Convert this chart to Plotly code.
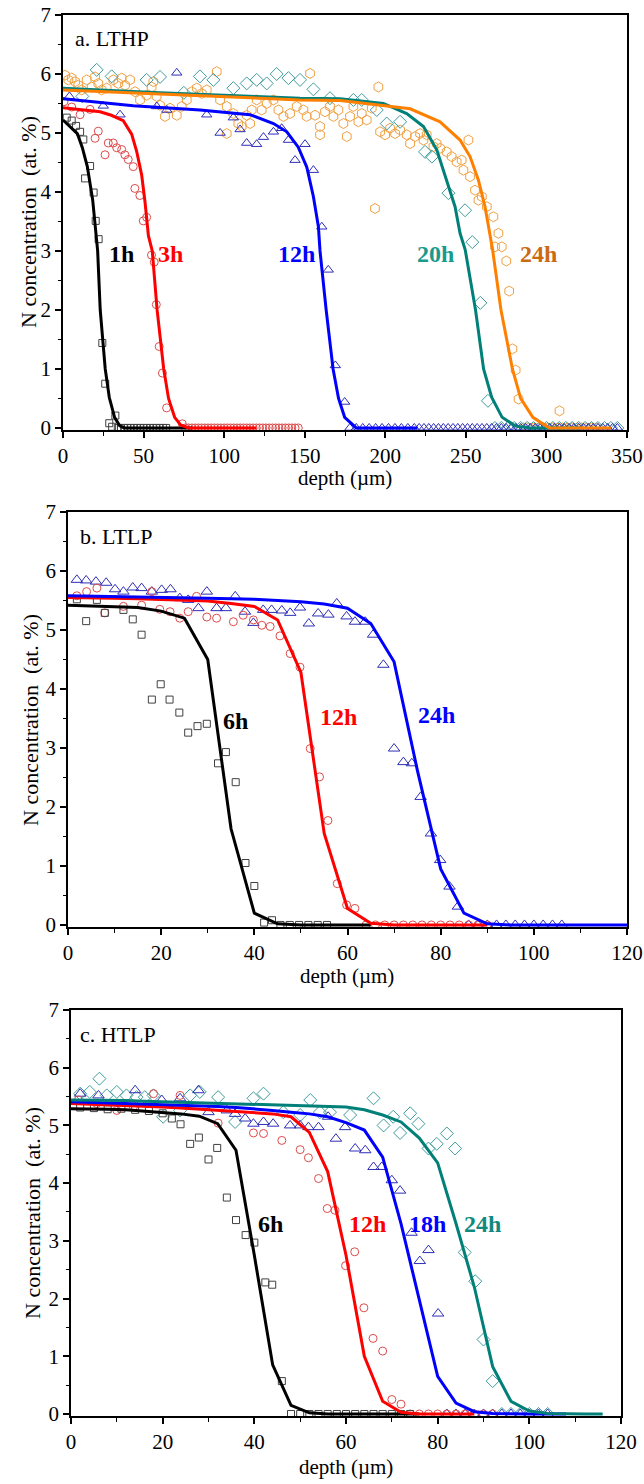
import plotly.graph_objects as go

# ---------------- Panel a: LTHP ----------------
a_1h_x = [2.3, 5.4, 8.1, 10.6, 12.6, 13.7, 16.8, 19.0, 20.3, 22.1, 24.4, 26.2, 28.7, 30.5, 32.5,
          34, 36, 38, 40, 42, 44, 46, 48, 50, 52, 54, 56, 58, 60, 62, 64]
a_1h_y = [5.26, 5.21, 5.12, 5.02, 4.89, 4.23, 4.44, 3.99, 3.51, 3.20, 1.44, 0.75, 0.08, 0.02, 0.21,
          0, 0, 0, 0, 0, 0, 0, 0, 0, 0, 0, 0, 0, 0, 0, 0]
a_1h_fit_x = [0, 4, 8.9, 12, 15.1, 18.4, 20.5, 21.5, 23.1, 26.2, 28.7, 32, 35.1, 38, 80]
a_1h_fit_y = [5.22, 5.12, 4.99, 4.75, 4.43, 3.87, 3.3, 3.0, 2.0, 1.0, 0.52, 0.18, 0.04, 0.0, 0.0]

a_3h_x = [0.6, 5.4, 10.6, 16.8, 19.9, 21.9, 26.1, 28.1, 31.2, 33.3, 36.4, 38.4, 40.5, 43.6, 44.6,
          47.7, 49.8, 51.9, 54.9, 56.6, 57.9, 59.7, 61.7, 64.3, 74,
          76, 78, 80, 82, 84, 86, 88, 90, 92, 94, 96, 98, 100, 102, 104, 106, 108, 110, 112, 114,
          116, 118, 120, 122, 124, 126, 128, 130, 132, 134, 136, 138, 140, 142, 144, 146]
a_3h_y = [5.53, 5.44, 5.31, 5.40, 4.91, 5.03, 4.63, 4.83, 4.83, 4.75, 4.72, 4.63, 4.55, 4.43, 4.06,
          3.94, 3.51, 3.57, 2.93, 2.81, 2.09, 1.38, 0.93, 0.34, 0.07,
          0, 0, 0, 0, 0, 0, 0, 0, 0, 0, 0, 0, 0, 0, 0, 0, 0, 0, 0, 0,
          0, 0, 0, 0, 0, 0, 0, 0, 0, 0, 0, 0, 0, 0, 0, 0]
a_3h_fit_x = [0, 12, 23, 30, 37.4, 42.6, 45.7, 48.8, 50.9, 53, 55.4, 58.4, 62.5, 65.5, 69.3, 73, 78, 120]
a_3h_fit_y = [5.43, 5.40, 5.36, 5.30, 5.21, 4.98, 4.69, 4.29, 3.83, 3.26, 3.0, 2.0, 1.0, 0.5, 0.18, 0.05, 0.0, 0.0]

a_12h_x = [4, 25.0, 35.4, 58.2, 64.4, 70.6, 89.2, 97.5, 105.7, 109.9, 114.0, 120.2, 124.4, 130.6,
           135.7, 139.9, 144.0, 150.2, 155.4, 160.6, 164.6, 169, 174.8,
           178, 182, 186, 190, 194, 198, 202, 206, 210, 214, 218, 221, 224, 227, 230, 233, 236, 239,
           242, 245, 248, 251, 254, 257, 260, 263, 266, 269, 272, 275, 278, 281, 284, 287, 290, 293,
           296, 299, 302, 305, 308, 311, 314, 317, 320, 323, 326, 329, 332, 335, 338, 341, 344]
a_12h_y = [5.62, 5.46, 5.31, 5.45, 5.39, 6.02, 5.31, 5.00, 5.26, 5.06, 4.83, 4.81, 4.93, 5.02,
           5.08, 4.88, 4.54, 4.81, 4.37, 3.41, 2.68, 1.06, 0.44,
           0, 0, 0, 0, 0, 0, 0, 0, 0, 0, 0, 0, 0, 0, 0, 0, 0, 0,
           0, 0, 0, 0, 0, 0, 0, 0, 0, 0, 0, 0, 0, 0, 0, 0, 0, 0,
           0, 0, 0, 0, 0, 0, 0, 0, 0, 0, 0, 0, 0, 0, 0, 0, 0]
a_12h_fit_x = [0, 43.6, 85, 116, 130.6, 138.9, 146, 151.3, 155.4, 158.5, 159.5, 163.3, 167.6, 171, 174.8, 182, 220]
a_12h_fit_y = [5.58, 5.46, 5.39, 5.31, 5.16, 5.02, 4.76, 4.42, 3.92, 3.41, 3.0, 2.0, 1.0, 0.5, 0.18, 0.0, 0.0]

a_20h_x = [12, 20.9, 30.2, 51.9, 60.2, 75, 85, 93.3, 105.7, 114, 120.2, 126.4, 132.6, 139.9, 147.1,
           155.4, 165.7, 180.2, 185.4, 194.7, 200.9, 209.2, 224.7, 228.9, 239.2, 249.5, 254, 259, 263.7,
           268, 272, 276, 280, 284, 288, 292, 296, 300, 304, 308, 312, 316, 320, 324, 328, 332, 336, 340, 344]
a_20h_y = [5.62, 6.07, 5.96, 5.90, 5.95, 5.68, 5.96, 5.90, 5.76, 5.84, 5.90, 5.84, 6.0, 5.93, 5.90,
           5.74, 5.59, 5.56, 5.56, 5.39, 5.16, 5.19, 4.68, 4.60, 3.98, 3.69, 3.15, 2.12, 0.46,
           0, 0, 0, 0, 0, 0, 0, 0, 0, 0, 0, 0, 0, 0, 0, 0, 0, 0, 0, 0]
a_20h_fit_x = [0, 60, 120, 147.1, 172, 198.8, 213.3, 223.7, 232, 238.2, 243.3, 246.4, 249.6, 256, 261, 266, 272.5, 281, 290, 322]
a_20h_fit_y = [5.76, 5.68, 5.62, 5.59, 5.58, 5.50, 5.33, 5.11, 4.71, 4.20, 3.75, 3.30, 3.02, 2.0, 1.0, 0.52, 0.18, 0.03, 0.0, 0.0]

a_24h_x = [1.2, 3.3, 5.4, 7.5, 9.5, 11.6, 14.7, 17.8, 19.9, 21.9, 24.0, 27.1, 31.2, 34.3, 36.4, 38.5,
           41.6, 44.7, 47.8, 51.9, 55.0, 56.1, 58.1, 60.2, 63.3, 66.4, 70.6, 73.7, 76.8, 79.9, 83.0,
           86.1, 89.2, 95.4, 97.5, 101.6, 105.7, 108.8, 110.9, 114.0, 117.1, 120.2, 123.3, 126.4,
           130.6, 133.7, 136.8, 140.9, 145.0, 101.6, 116.1,
           153.3, 149.2, 151.2, 156.4, 159.5, 159.5, 162.6, 165.7, 167.8, 170.9, 174.0, 176.1, 178.1,
           180.2, 183.3, 185.4, 188.5, 191.6, 195.7, 196.8, 199.9, 203.0, 206.1, 209.2, 213.3, 215.4,
           218.5, 221.6, 223.7, 225.7, 229.9, 231.9, 234.0, 238.1, 241.2, 244.3, 247.4, 251.6, 248.5,
           252.6, 255.7, 257.8, 259.9, 263.0, 193.6, 267.1, 270.2, 272.3, 268.1,
           275.1, 276.9, 278.9, 280.9, 282.7, 308.1,
           286, 289, 292, 295, 298, 301, 304, 307, 310, 313, 316, 319, 322, 325, 328, 331]
a_24h_y = [5.98, 5.90, 5.93, 5.87, 5.81, 5.73, 5.90, 5.78, 5.95, 5.84, 5.73, 5.76, 5.90, 5.84, 5.93, 5.81,
           5.90, 5.70, 5.56, 5.64, 5.78, 5.87, 5.62, 5.47, 5.28, 5.42, 5.30, 5.45, 5.56, 5.70, 5.76,
           5.67, 5.73, 6.04, 5.56, 5.45, 5.33, 5.16, 5.11, 5.30, 5.39, 5.56, 5.39, 5.50,
           5.56, 5.39, 5.28, 5.33, 5.45, 4.99, 5.16,
           6.01, 5.39, 5.28, 5.30, 5.11, 4.97, 5.36, 5.45, 5.28, 5.39, 5.16, 4.94, 5.28,
           5.45, 5.19, 5.33, 5.22, 5.42, 5.78, 5.02, 4.97, 5.08, 4.99, 5.05, 4.97, 4.82,
           4.94, 4.99, 4.88, 4.97, 4.77, 4.82, 4.74, 4.68, 4.60, 4.51, 4.54, 4.88, 4.37,
           4.26, 4.03, 3.86, 3.92, 3.75, 3.72, 3.58, 3.30, 3.07, 3.07,
           2.83, 2.32, 1.34, 0.98, 0.49, 0.29,
           0, 0, 0, 0, 0, 0, 0, 0, 0, 0, 0, 0, 0, 0, 0, 0]
a_24h_fit_x = [0, 60, 120, 147, 172, 188.5, 215.4, 234, 246.4, 252.6, 257.8, 261.9, 265, 266.6, 271.8, 278.9, 284, 291.6, 301.8, 340]
a_24h_fit_y = [5.73, 5.66, 5.60, 5.56, 5.55, 5.50, 5.41, 5.19, 4.88, 4.60, 4.20, 3.75, 3.30, 3.02, 2.0, 1.0, 0.5, 0.18, 0.0, 0.0]

# ---------------- Panel b: LTLP ----------------
b_6h_x = [1.9, 3.9, 6.2, 7.9, 11.9, 13.9, 15.8, 18.0, 19.9, 21.8, 23.9, 25.8, 27.8, 29.8, 32.2, 33.9,
          36.0, 38.1, 40.0, 42.1, 43.8, 45.6, 47.6, 49.6, 51.6, 53.6, 55.6]
b_6h_y = [5.52, 5.15, 5.51, 5.29, 5.34, 5.18, 4.92, 3.82, 4.08, 3.82, 3.60, 3.26, 3.37, 3.41, 2.74, 2.93,
          2.42, 1.05, 0.66, 0.04, 0.08, 0, 0, 0, 0, 0, 0]
b_6h_fit_x = [0, 5, 10, 15, 20, 25, 30, 35, 40, 45, 50, 55, 60, 65]
b_6h_fit_y = [5.42, 5.41, 5.40, 5.38, 5.32, 5.20, 4.50, 1.63, 0.20, 0.02, 0, 0, 0, 0]

b_12h_x = [1.9, 4.0, 6.2, 7.9, 11.9, 15.8, 18.0, 19.7, 21.9, 24.0, 25.8, 27.6, 29.8, 31.9, 35.5, 37.6,
           39.8, 41.6, 43.4, 45.5, 47.7, 49.8, 52.0, 54.0, 55.8, 57.8, 59.8, 61.6,
           64, 66, 68, 70, 72, 74, 76, 78, 80, 82, 84, 86, 88, 90]
b_12h_y = [5.58, 5.65, 5.71, 5.29, 5.40, 5.42, 5.65, 5.35, 5.31, 5.20, 5.31, 5.57, 5.22, 5.20, 5.14, 5.25,
           5.17, 5.08, 5.06, 4.90, 4.60, 4.37, 2.99, 2.51, 1.77, 0.70, 0.34, 0.28,
           0, 0, 0, 0, 0, 0, 0, 0, 0, 0, 0, 0, 0, 0]
b_12h_fit_x = [0, 5, 10, 15, 20, 25, 30, 35, 40, 45, 50, 55, 60, 65, 70, 75, 80, 85, 90]
b_12h_fit_y = [5.55, 5.55, 5.54, 5.53, 5.52, 5.51, 5.49, 5.45, 5.40, 5.17, 4.28, 1.55, 0.28, 0.03, 0, 0, 0, 0, 0]

b_24h_x = [1.9, 3.9, 6.0, 8.2, 10.1, 11.9, 13.9, 15.8, 18.0, 20.1, 22.0, 24.0, 25.8, 28.0, 29.8, 31.9,
           33.9, 35.9, 38.0, 39.8, 41.9, 43.7, 45.9, 47.7, 49.8, 51.7, 53.7, 55.9, 57.7, 59.8, 61.6,
           63.8, 65.5, 67.7, 70.0, 72.0, 73.8, 75.7, 77.9, 79.9, 81.9, 83.7,
           86, 88, 90, 92, 94, 96, 98, 100, 102, 104, 106]
b_24h_y = [5.85, 5.84, 5.82, 5.80, 5.69, 5.65, 5.72, 5.71, 5.65, 5.68, 5.69, 5.54, 5.51, 5.37, 5.65, 5.37,
           5.37, 5.57, 5.31, 5.12, 5.34, 5.34, 5.33, 5.29, 5.38, 5.11, 5.28, 5.26, 5.45, 5.23, 5.14,
           5.14, 4.92, 4.41, 2.99, 2.76, 2.74, 2.17, 1.55, 1.10, 0.65, 0.31,
           0, 0, 0, 0, 0, 0, 0, 0, 0, 0, 0]
b_24h_fit_x = [0, 10, 20, 30, 40, 50, 55, 60, 65, 70, 75, 80, 85, 90, 95, 120]
b_24h_fit_y = [5.58, 5.57, 5.56, 5.54, 5.52, 5.48, 5.44, 5.37, 5.11, 4.46, 2.62, 0.95, 0.20, 0.02, 0, 0]

# ---------------- Panel c: HTLP ----------------
c_6h_x = [2, 5, 8, 11, 14, 17, 20, 22.0, 23.9, 26.0, 27.9, 30.0, 31.9, 34.0, 36.0, 38.1, 40.0, 42.4,
          43.9, 46.0, 48, 50, 52, 54, 56, 58, 60, 62, 64, 66, 68, 70, 72, 74]
c_6h_y = [5.31, 5.30, 5.28, 5.29, 5.27, 5.25, 5.21, 5.12, 5.02, 4.68, 4.79, 4.41, 4.61, 3.75, 3.36, 3.10,
          2.97, 2.28, 2.24, 0.57, 0, 0, 0, 0, 0, 0, 0, 0, 0, 0, 0, 0, 0, 0]
c_6h_fit_x = [0, 4, 8, 12, 16, 20, 24, 28, 32, 36, 40, 44, 48, 52, 56, 60, 64, 68, 72, 76]
c_6h_fit_y = [5.29, 5.29, 5.28, 5.27, 5.25, 5.23, 5.20, 5.16, 5.03, 4.57, 2.75, 0.85, 0.15, 0.02, 0, 0, 0, 0, 0, 0]

c_12h_x = [1.6, 5.6, 10, 13.6, 18, 23.8, 32.1, 39.8, 42, 46, 50, 51.8, 54, 55.9, 57.6, 59.9, 61.9, 63.9,
           65.9, 68.0, 70.0, 72.0, 74, 76, 78, 80, 82, 84, 86, 88, 90, 92]
c_12h_y = [5.44, 5.38, 5.26, 5.32, 5.55, 5.52, 5.04, 4.87, 4.86, 4.74, 4.58, 4.44, 4.08, 3.56, 3.53, 2.57,
           2.81, 1.84, 1.31, 1.09, 0.25, 0.17, 0, 0, 0, 0, 0, 0, 0, 0, 0, 0]
c_12h_fit_x = [0, 4, 8, 12, 16, 20, 24, 28, 32, 36, 40, 44, 48, 52, 56, 60, 64, 68, 72, 76, 80, 84, 88]
c_12h_fit_y = [5.38, 5.37, 5.36, 5.35, 5.34, 5.32, 5.30, 5.28, 5.26, 5.25, 5.23, 5.20, 5.15, 4.88, 4.20,
               2.75, 1.0, 0.22, 0.03, 0, 0, 0, 0]

c_18h_x = [2, 6, 14, 19.8, 23.8, 27.8, 30, 34, 35.8, 38, 39.8, 42, 44.1, 47.8, 50, 51.8, 54, 56.1, 57.8,
           59.8, 62, 64.2, 66, 67.8, 70, 71.8, 74.3, 76.1, 78, 80.1,
           82, 84, 86, 88, 90, 92, 94, 96, 98, 100, 102, 104]
c_18h_y = [5.55, 5.52, 5.61, 5.44, 5.47, 5.61, 5.23, 5.26, 5.20, 5.12, 5.03, 5.06, 5.03, 5.0, 5.0, 4.97,
           4.97, 5.15, 4.77, 4.97, 4.60, 4.57, 4.28, 4.28, 4.05, 3.87, 3.14, 2.65, 2.84, 1.74,
           0, 0, 0, 0, 0, 0, 0, 0, 0, 0, 0, 0]
c_18h_fit_x = [0, 4, 8, 12, 16, 20, 24, 28, 32, 36, 40, 44, 48, 52, 56, 60, 64, 68, 72, 76, 80, 84, 88,
               92, 96, 100, 104, 108]
c_18h_fit_y = [5.41, 5.40, 5.40, 5.39, 5.38, 5.37, 5.36, 5.35, 5.33, 5.31, 5.29, 5.26, 5.23, 5.20, 5.15,
               5.05, 4.92, 4.45, 3.3, 1.95, 0.65, 0.19, 0.04, 0.01, 0, 0, 0, 0]

c_24h_x = [2, 4.1, 6.2, 7.8, 10, 12.1, 14.3, 16.1, 18, 20.1, 23.8, 26, 28.1, 32.1, 35.8, 39.8, 42, 46.3,
           50, 52.2, 54.3, 56.5, 60.9, 66, 68.2, 70.3, 71.8, 74, 75.8, 78, 79.8, 82, 83.8, 85.9, 88.2,
           90, 92, 94, 96, 98, 100, 102, 104]
c_24h_y = [5.55, 5.58, 5.81, 5.52, 5.58, 5.52, 5.49, 5.49, 5.52, 5.15, 5.26, 5.52, 5.58, 5.49, 5.06, 5.47,
           5.55, 5.23, 5.18, 5.44, 5.23, 5.23, 5.18, 5.47, 5.0, 5.15, 4.87, 5.21, 5.03, 4.6, 4.68, 4.86,
           4.6, 2.8, 2.3, 1.29, 0.57, 0, 0, 0, 0, 0, 0]
c_24h_fit_x = [0, 4, 8, 12, 16, 20, 24, 28, 32, 36, 40, 44, 48, 52, 56, 60, 64, 68, 72, 76, 80, 84, 88,
               92, 96, 100, 104, 108, 112, 116]
c_24h_fit_y = [5.44, 5.44, 5.43, 5.43, 5.42, 5.41, 5.41, 5.40, 5.39, 5.38, 5.37, 5.36, 5.35, 5.34, 5.33,
               5.32, 5.27, 5.18, 5.06, 4.78, 4.35, 3.3, 2.2, 0.82, 0.22, 0.05, 0.01, 0, 0, 0]

# curve labels: (text, x, y)
a_labels = [("1h", 36, 2.95), ("3h", 67, 2.95), ("12h", 145, 2.95), ("20h", 231, 2.95), ("24h", 295, 2.95)]
b_labels = [("6h", 36, 3.46), ("12h", 58, 3.53), ("24h", 79, 3.56)]
c_labels = [("6h", 43.5, 3.3), ("12h", 64.6, 3.3), ("18h", 77.7, 3.3), ("24h", 89.8, 3.3)]

# ---------------- styling ----------------
W, H = 644, 1484
SERIF = "'Liberation Serif', 'Times New Roman', Times, serif"
C_BLACK, C_RED, C_BLUE, C_TEAL, C_ORANGE = "#000000", "#ff0000", "#0000ff", "#008078", "#ff8000"
M_SQ, M_CI, M_TR, M_DI, M_HX = "#404040", "#dd4b4b", "#2e2eb8", "#3f9c9c", "#f0a040"

# pixel boxes: (left, right, top, bottom)
boxes = {"a": (63, 627, 15, 430), "b": (68, 627, 512, 927), "c": (71, 621, 1010, 1416)}


def dom(box):
    l, r, t, b = box
    return [l / W, r / W], [1 - b / H, 1 - t / H]


fig = go.Figure()


def add_markers(ax, xs, ys, symbol, color, size):
    fig.add_trace(go.Scatter(x=xs, y=ys, mode="markers", xaxis="x" + ax, yaxis="y" + ax,
                             marker=dict(symbol=symbol, size=size, color=color,
                                         line=dict(color=color, width=1)),
                             showlegend=False, hoverinfo="skip"))


def add_line(ax, xs, ys, color):
    fig.add_trace(go.Scatter(x=xs, y=ys, mode="lines", xaxis="x" + ax, yaxis="y" + ax,
                             line=dict(color=color, width=3), showlegend=False, hoverinfo="skip"))


# Panel a
add_markers("", a_24h_x, a_24h_y, "hexagon-open", M_HX, 10)
add_markers("", a_20h_x, a_20h_y, "diamond-open", M_DI, 10)
add_markers("", a_12h_x, a_12h_y, "triangle-up-open", M_TR, 9)
add_markers("", a_3h_x, a_3h_y, "circle-open", M_CI, 8)
add_markers("", a_1h_x, a_1h_y, "square-open", M_SQ, 7)
add_line("", a_1h_fit_x, a_1h_fit_y, C_BLACK)
add_line("", a_3h_fit_x, a_3h_fit_y, C_RED)
add_line("", a_12h_fit_x, a_12h_fit_y, C_BLUE)
add_line("", a_20h_fit_x, a_20h_fit_y, C_TEAL)
add_line("", a_24h_fit_x, a_24h_fit_y, C_ORANGE)

# Panel b
add_markers("2", b_24h_x, b_24h_y, "triangle-up-open", M_TR, 10)
add_markers("2", b_12h_x, b_12h_y, "circle-open", M_CI, 8)
add_markers("2", b_6h_x, b_6h_y, "square-open", M_SQ, 7)
add_line("2", b_6h_fit_x, b_6h_fit_y, C_BLACK)
add_line("2", b_12h_fit_x, b_12h_fit_y, C_RED)
add_line("2", b_24h_fit_x, b_24h_fit_y, C_BLUE)

# Panel c
add_markers("3", c_24h_x, c_24h_y, "diamond-open", M_DI, 10)
add_markers("3", c_18h_x, c_18h_y, "triangle-up-open", M_TR, 10)
add_markers("3", c_12h_x, c_12h_y, "circle-open", M_CI, 8)
add_markers("3", c_6h_x, c_6h_y, "square-open", M_SQ, 7)
add_line("3", c_6h_fit_x, c_6h_fit_y, C_BLACK)
add_line("3", c_12h_fit_x, c_12h_fit_y, C_RED)
add_line("3", c_18h_fit_x, c_18h_fit_y, C_BLUE)
add_line("3", c_24h_fit_x, c_24h_fit_y, C_TEAL)

tickfont = dict(family=SERIF, size=21, color="black")


def xaxis(box, rng, dtick, minor, anchor):
    d, _ = dom(box)
    return dict(domain=d, range=rng, anchor=anchor, dtick=dtick, tick0=0, ticks="outside",
                ticklen=6, tickwidth=1.5, tickcolor="black", showline=True, linecolor="black",
                linewidth=1.5, mirror=True, showgrid=False, zeroline=False, tickfont=tickfont,
                minor=dict(dtick=minor, ticks="outside", ticklen=4, tickwidth=1.2, tickcolor="black"),
                automargin=False, fixedrange=True)


def yaxis(box, anchor):
    _, d = dom(box)
    return dict(domain=d, range=[-0.035, 7], anchor=anchor, dtick=1, tick0=0, ticks="outside",
                ticklen=6, tickwidth=1.5, tickcolor="black", showline=True, linecolor="black",
                linewidth=1.5, mirror=True, showgrid=False, zeroline=False, tickfont=tickfont,
                minor=dict(dtick=0.5, ticks="outside", ticklen=3, tickwidth=1.2, tickcolor="black"),
                automargin=False, fixedrange=True)


annotations = []
label_colors_a = {"1h": "#000000", "3h": "#ff0000", "12h": "#0000ff", "20h": "#1a9a8c", "24h": "#cc6a14"}
label_colors_b = {"6h": "#000000", "12h": "#ff0000", "24h": "#0000ff"}
label_colors_c = {"6h": "#000000", "12h": "#ff0000", "18h": "#0000ff", "24h": "#108a80"}
for labels, cols, ax in ((a_labels, label_colors_a, ""), (b_labels, label_colors_b, "2"),
                         (c_labels, label_colors_c, "3")):
    for t, x, y in labels:
        annotations.append(dict(text="<b>%s</b>" % t, x=x, y=y, xref="x" + ax, yref="y" + ax,
                                showarrow=False, xanchor="center", yanchor="middle",
                                font=dict(family=SERIF, size=24, color=cols[t])))

panel_titles = [("a. LTHP", "a", 10), ("b. LTLP", "b", 10), ("c. HTLP", "c", 7)]
for text, key, dx in panel_titles:
    l, r, t, b = boxes[key]
    annotations.append(dict(text=text, x=(l + dx) / W, y=1 - (t + 24) / H, xref="paper", yref="paper",
                            showarrow=False, xanchor="left", yanchor="middle",
                            font=dict(family=SERIF, size=22, color="black")))

ytitle_pos = {"a": (28, 222), "b": (30, 720), "c": (32, 1213)}
xtitle_pos = {"a": (345, 478), "b": (347, 976), "c": (346, 1467)}
for key in "abc":
    xp, yp = ytitle_pos[key]
    annotations.append(dict(text="N concentration  (at. %)", x=xp / W, y=1 - yp / H, xref="paper",
                            yref="paper", showarrow=False, textangle=-90, xanchor="center",
                            yanchor="middle", font=dict(family=SERIF, size=22, color="black")))
    xp, yp = xtitle_pos[key]
    annotations.append(dict(text="depth (µm)", x=xp / W, y=1 - yp / H, xref="paper", yref="paper",
                            showarrow=False, xanchor="center", yanchor="middle",
                            font=dict(family=SERIF, size=21, color="black")))

fig.update_layout(
    width=W, height=H, margin=dict(l=0, r=0, t=0, b=0),
    paper_bgcolor="white", plot_bgcolor="white", showlegend=False,
    font=dict(family=SERIF),
    xaxis=xaxis(boxes["a"], [0, 350], 50, 25, "y"),
    yaxis=yaxis(boxes["a"], "x"),
    xaxis2=xaxis(boxes["b"], [0, 120], 20, 10, "y2"),
    yaxis2=yaxis(boxes["b"], "x2"),
    xaxis3=xaxis(boxes["c"], [0, 120], 20, 10, "y3"),
    yaxis3=yaxis(boxes["c"], "x3"),
    annotations=annotations,
)

# remove the default page margin so the 644x1484 figure fits the window exactly
page_fix = ("document.documentElement.style.margin='0';document.documentElement.style.overflow='hidden';"
            "document.body.style.margin='0';document.body.style.overflow='hidden';")
fig.write_html("out.html", post_script=page_fix, config={"displayModeBar": False})
